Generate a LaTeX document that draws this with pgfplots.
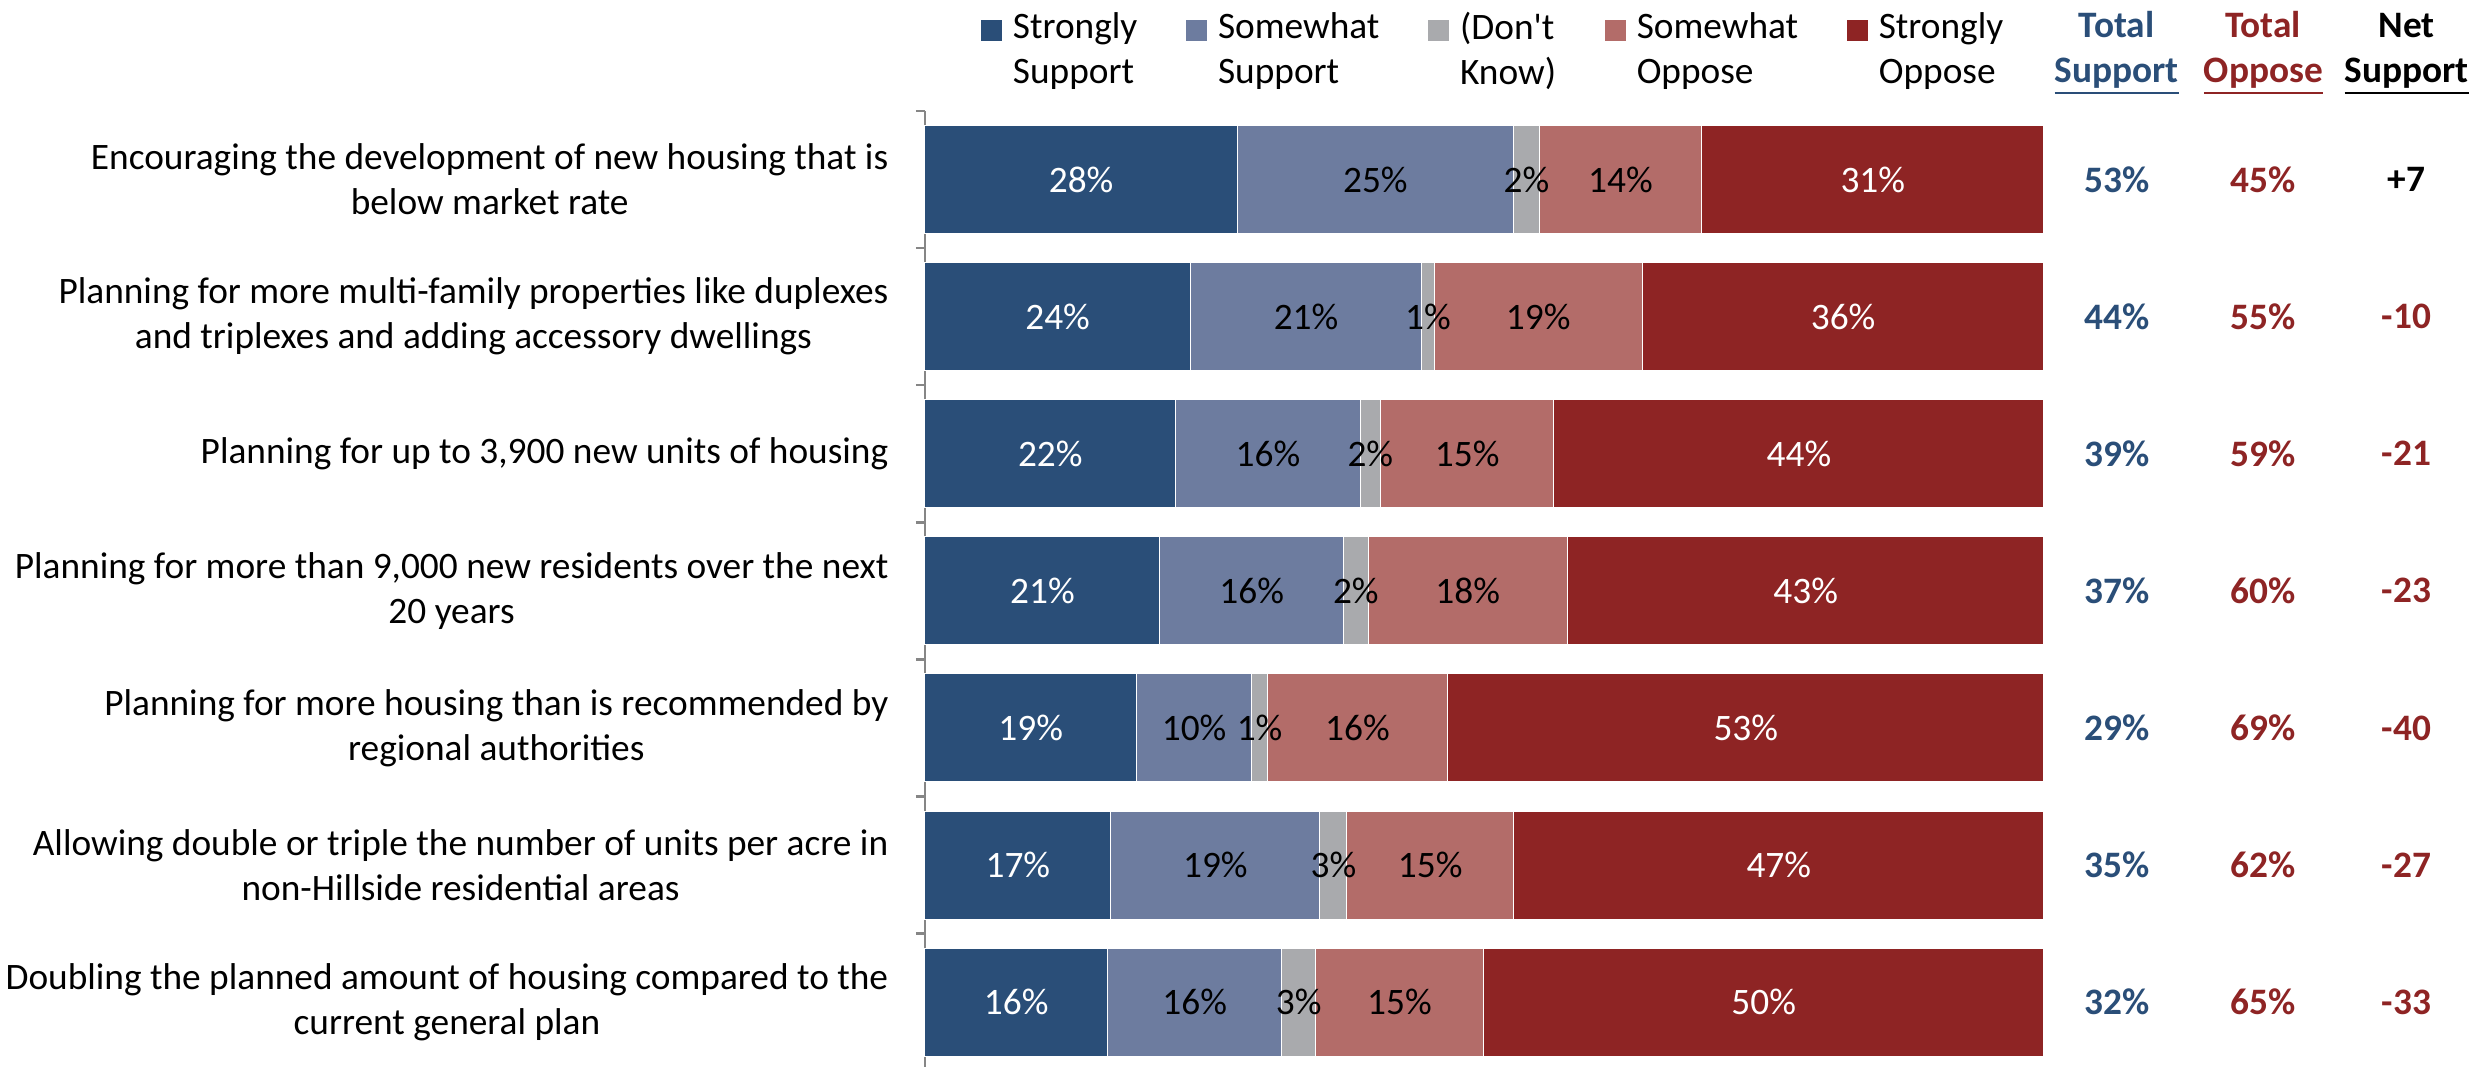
\documentclass[border=0pt]{standalone}
\usepackage{fontspec}
\setmainfont{Carlito}
\usepackage{pgfplots}
\pgfplotsset{compat=1.18}
\usepackage{pgfplotstable}

\definecolor{cSS}{HTML}{2A4E78}
\definecolor{cSW}{HTML}{6D7C9F}
\definecolor{cDK}{HTML}{A9AAAD}
\definecolor{cSO}{HTML}{B36C69}
\definecolor{cST}{HTML}{8E2424}
\definecolor{axgray}{HTML}{868686}

\newcommand{\myul}[1]{\leavevmode\setbox0\hbox{#1}\rlap{\rule[-3.6pt]{\wd0}{0.8pt}}\box0}

\pgfplotstableread{
y ss sw dk so st
0 27.9 24.7 2.3 14.5 30.6
1 23.7 20.7 1.1 18.6 35.9
2 22.4 16.5 1.8 15.5 43.8
3 21.0 16.4 2.2 17.8 42.6
4 18.9 10.3 1.4 16.1 53.3
5 16.6 18.7 2.4 14.9 47.4
6 16.3 15.6 3.0 15.0 50.1
}\bars

\pgfplotstableread{
y c1 l1 c2 l2 c3 l3 c4 l4 c5 l5 ts to net
0 13.95 28 40.25 25 53.75 2 62.15 14 84.7 31 53 45 +7
1 11.85 24 34.05 21 44.95 1 54.8 19 82.05 36 44 55 -10
2 11.2 22 30.65 16 39.8 2 48.45 15 78.1 44 39 59 -21
3 10.5 21 29.2 16 38.5 2 48.5 18 78.7 43 37 60 -23
4 9.45 19 24.05 10 29.9 1 38.65 16 73.35 53 29 69 -40
5 8.3 17 25.95 19 36.5 3 45.15 15 76.3 47 35 62 -27
6 8.15 16 24.1 16 33.4 3 42.4 15 74.95 50 32 65 -33
}\labs

\newcommand{\lfont}{\fontsize{11.2}{13.5}\selectfont}

\begin{document}
\begin{tikzpicture}
\begin{axis}[
  at={(0,0)}, anchor=south west,
  scale only axis, width=335.7pt, height=287.9pt,
  xbar stacked, bar width=32.4pt,
  xmin=0, xmax=100, ymin=-0.5, ymax=6.5, y dir=reverse,
  axis x line=none, axis y line=left,
  axis line style={-, draw=axgray, line width=0.75pt},
  ytick={0,...,6},
  yticklabels={
    {Encouraging the development of new housing that is\\below market rate},
    {Planning for more multi-family properties like duplexes\\and triplexes and adding accessory dwellings},
    {Planning for up to 3,900 new units of housing},
    {Planning for more than 9,000 new residents over the next\\20 years},
    {Planning for more housing than is recommended by\\regional authorities},
    {Allowing double or triple the number of units per acre in\\non-Hillside residential areas},
    {Doubling the planned amount of housing compared to the\\current general plan}},
  yticklabel style={align=center, font=\lfont, inner sep=0pt, xshift=-10.8pt},
  major tick length=0pt,
  extra y ticks={-0.5,0.5,...,6.5}, extra y tick labels={},
  extra y tick style={major tick length=2.7pt, tick align=outside, tick style={draw=axgray, line width=0.75pt}},
  clip=false,
  legend columns=5,
  legend style={draw=none, fill=none, inner sep=0pt, outer sep=0pt,
    at={(0,1)}, anchor=north west, xshift=16.8pt, yshift=29.6pt,
    font=\lfont, cells={align=left}, nodes={inner sep=0pt},
    /tikz/every odd column/.append style={column sep=3.3pt},
    /tikz/every even column/.append style={column sep=14.6pt}},
]
\addplot[fill=cSS, draw=white, line width=0.3pt, legend image code/.code={\fill[cSS] (0pt,3pt) rectangle (6pt,9pt);}] table[x=ss, y=y]{\bars};
\addplot[fill=cSW, draw=white, line width=0.3pt, legend image code/.code={\fill[cSW] (0pt,3pt) rectangle (6pt,9pt);}] table[x=sw, y=y]{\bars};
\addplot[fill=cDK, draw=white, line width=0.3pt, legend image code/.code={\fill[cDK] (0pt,3pt) rectangle (6pt,9pt);}] table[x=dk, y=y]{\bars};
\addplot[fill=cSO, draw=white, line width=0.3pt, legend image code/.code={\fill[cSO] (0pt,3pt) rectangle (6pt,9pt);}] table[x=so, y=y]{\bars};
\addplot[fill=cST, draw=white, line width=0.3pt, legend image code/.code={\fill[cST] (0pt,3pt) rectangle (6pt,9pt);}] table[x=st, y=y]{\bars};
\legend{{Strongly\\Support},{Somewhat\\Support},{(Don\textquotesingle t\\Know)},{Somewhat\\Oppose},{Strongly\\Oppose}}
\end{axis}

\begin{axis}[
  at={(0,0)}, anchor=south west,
  scale only axis, width=335.7pt, height=287.9pt,
  xmin=0, xmax=100, ymin=-0.5, ymax=6.5, y dir=reverse,
  hide axis, clip=false,
  point meta=explicit symbolic,
  nodes near coords={\pgfplotspointmeta\%},
  every node near coord/.append style={anchor=center, font=\lfont, inner sep=0pt},
]
\addplot[draw=none, mark=none, every node near coord/.append style={text=white}] table[x=c1, y=y, meta=l1]{\labs};
\addplot[draw=none, mark=none, every node near coord/.append style={text=black}] table[x=c2, y=y, meta=l2]{\labs};
\addplot[draw=none, mark=none, every node near coord/.append style={text=black}] table[x=c3, y=y, meta=l3]{\labs};
\addplot[draw=none, mark=none, every node near coord/.append style={text=black}] table[x=c4, y=y, meta=l4]{\labs};
\addplot[draw=none, mark=none, every node near coord/.append style={text=white}] table[x=c5, y=y, meta=l5]{\labs};
\addplot[draw=none, mark=none, every node near coord/.append style={text=cSS, font=\lfont\bfseries}] table[x expr=106.5, y=y, meta=ts]{\labs};
\addplot[draw=none, mark=none, every node near coord/.append style={text=cST, font=\lfont\bfseries}] table[x expr=119.6, y=y, meta=to]{\labs};
\addplot[draw=none, mark=none, nodes near coords={\pgfplotspointmeta}, skip coords between index={1}{7}, every node near coord/.append style={text=black, font=\lfont\bfseries}] table[x expr=132.4, y=y, meta=net]{\labs};
\addplot[draw=none, mark=none, nodes near coords={\pgfplotspointmeta}, skip coords between index={0}{1}, every node near coord/.append style={text=cST, font=\lfont\bfseries}] table[x expr=132.4, y=y, meta=net]{\labs};

\node[anchor=base, font=\lfont\bfseries, text=cSS, yshift=22.2pt] at (axis cs:106.5,-0.5) {Total};
\node[anchor=base, font=\lfont\bfseries, text=cSS, yshift=8.6pt] at (axis cs:106.5,-0.5) {\myul{Support}};
\node[anchor=base, font=\lfont\bfseries, text=cST, yshift=22.2pt] at (axis cs:119.6,-0.5) {Total};
\node[anchor=base, font=\lfont\bfseries, text=cST, yshift=8.6pt] at (axis cs:119.6,-0.5) {\myul{Oppose}};
\node[anchor=base, font=\lfont\bfseries, text=black, yshift=22.2pt] at (axis cs:132.4,-0.5) {Net};
\node[anchor=base, font=\lfont\bfseries, text=black, yshift=8.6pt] at (axis cs:132.4,-0.5) {\myul{Support}};
\end{axis}
\pgfresetboundingbox
\path[use as bounding box] (-277.5pt,1.4pt) rectangle (469.2pt,321.2pt);
\end{tikzpicture}
\end{document}
